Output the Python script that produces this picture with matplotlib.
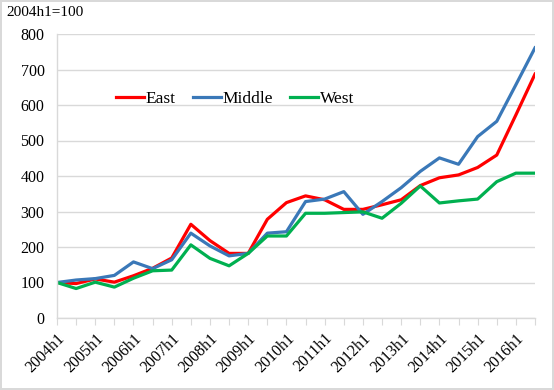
import numpy as np
import matplotlib
matplotlib.use("Agg")
import matplotlib.pyplot as plt

plt.rcParams['font.family'] = ['Liberation Serif', 'DejaVu Serif']

# half-year periods, 2004h1 .. 2016h2
periods = [f"{y}h{h}" for y in range(2004, 2017) for h in (1, 2)]
tick_labels = [p if p.endswith("h1") else "" for p in periods]

east = [100, 97, 110, 101, 119, 140, 169, 264, 218, 182, 182, 278, 325,
        344, 333, 306, 306, 319, 333, 373, 395, 403, 424, 459, 572, 687]
middle = [100, 107, 111, 120, 158, 139, 164, 239, 203, 175, 182, 239, 243,
          328, 335, 356, 292, 328, 367, 413, 451, 433, 511, 554, 657, 761]
west = [100, 83, 101, 87, 112, 133, 135, 206, 168, 147, 182, 231, 231,
        295, 295, 297, 299, 281, 323, 372, 324, 330, 335, 384, 408, 408]

fig = plt.figure(figsize=(5.54, 3.9), dpi=100)
fig.patch.set_edgecolor('#d9d9d9')
fig.patch.set_linewidth(1.5)
ax = fig.add_axes([57 / 554, 1 - 318 / 390, (535 - 57) / 554, (318 - 34) / 390])

x = np.arange(len(periods))
ax.plot(x, east, color='#ff0000', lw=2.3, label='East')
ax.plot(x, middle, color='#3a78b8', lw=2.3, label='Middle')
ax.plot(x, west, color='#00b050', lw=2.3, label='West')

ax.set_xlim(0, len(periods) - 1)
ax.set_ylim(0, 800)
ax.set_yticks(range(0, 801, 100))
ax.set_xticks(x)
ax.set_xticklabels(tick_labels, rotation=45, ha='right', va='top',
                   rotation_mode='anchor', fontsize=11.5)
ax.tick_params(axis='x', length=5, color='#d9d9d9', pad=4)
ax.tick_params(axis='y', length=0, labelsize=11.5, pad=9)
ax.grid(axis='y', color='#d9d9d9', lw=1)
ax.set_axisbelow(True)
for s in ('top', 'right'):
    ax.spines[s].set_visible(False)
for s in ('left', 'bottom'):
    ax.spines[s].set_color('#d9d9d9')
    ax.spines[s].set_linewidth(1)

ax.legend(ncol=3, frameon=False, fontsize=12.5, loc='center',
          bbox_to_anchor=(0.373, 0.772), handlelength=1.6, handletextpad=0.1,
          columnspacing=1.0)

fig.text(6 / 554, 1 - 13 / 390, '2004h1=100', fontsize=11, va='center', ha='left')

fig.savefig('out.png', dpi=100)
